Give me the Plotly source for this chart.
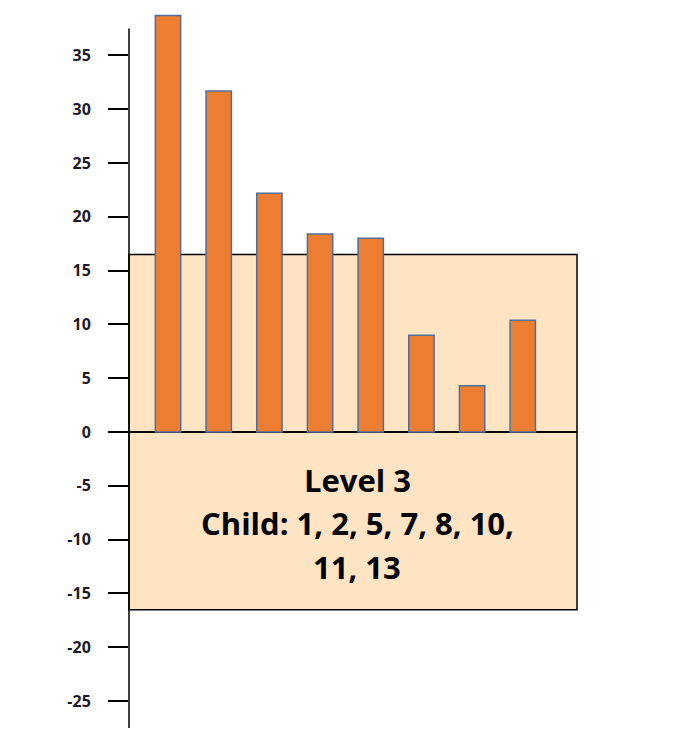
import plotly.graph_objects as go

categories = ["1", "2", "5", "7", "8", "10", "11", "13"]
values = [38.7, 31.7, 22.2, 18.4, 18.0, 9.0, 4.3, 10.4]
tick_values = [-25, -20, -15, -10, -5, 0, 5, 10, 15, 20, 25, 30, 35]
tick_labels = [str(v) for v in tick_values]
band_low, band_high = -16.5, 16.5
axis_low, axis_high = -27.5, 37.5
text_lines = ["Level 3", "Child: 1, 2, 5, 7, 8, 10,", "11, 13"]
text_y = [-4.45, -8.45, -12.5]

fig = go.Figure()
fig.add_trace(go.Bar(
    x=list(range(len(categories))), y=values, width=0.5,
    marker=dict(color="#ED7D31", line=dict(color="#50709A", width=1.5)),
    hoverinfo="skip",
))

fig.add_shape(type="rect", xref="paper", yref="y", x0=0, x1=1,
              y0=band_low, y1=band_high, fillcolor="#FFE4C4",
              line=dict(color="black", width=1.5), layer="below")
fig.add_shape(type="line", xref="paper", yref="y", x0=0, x1=0,
              y0=axis_low, y1=axis_high, line=dict(color="black", width=1.5))

for t, y in zip(text_lines, text_y):
    fig.add_annotation(x=0.51, xref="paper", y=y, yref="y", text="<b>" + t + "</b>",
                       showarrow=False, font=dict(family="Open Sans", size=31, color="black"),
                       xanchor="center", yanchor="middle")

fig.update_layout(
    width=691, height=741,
    margin=dict(l=129, r=114, t=7, b=13),
    paper_bgcolor="white", plot_bgcolor="rgba(0,0,0,0)",
    showlegend=False,
    xaxis=dict(range=[-0.77, 8.07], showticklabels=False, showgrid=False,
               zeroline=False, showline=False, ticks=""),
    yaxis=dict(range=[-27.5, 39.5], tickvals=tick_values, ticktext=["<b>" + s + "</b>" for s in tick_labels],
               showgrid=False, zeroline=True, zerolinecolor="black", zerolinewidth=1.5,
               showline=False, ticks="outside", ticklen=20, tickwidth=1.5, tickcolor="black",
               ticklabelstandoff=14,
               tickfont=dict(family="Open Sans", size=16, color="#1a1a2a")),
)

fig.write_html("out.html")
